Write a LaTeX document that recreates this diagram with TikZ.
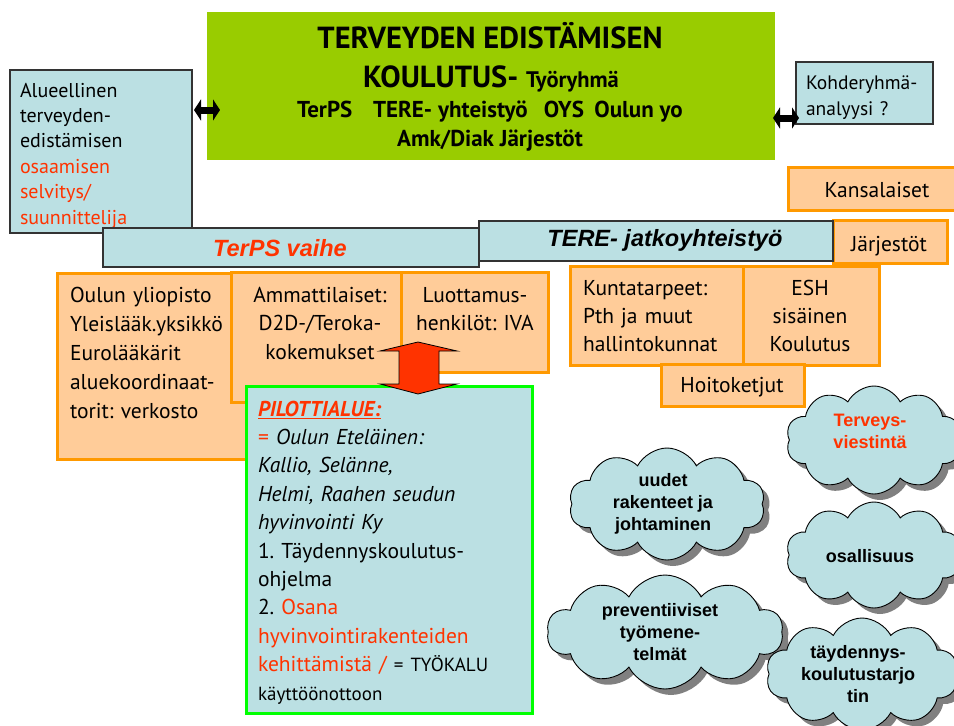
\documentclass[tikz,border=0pt]{standalone}
\usepackage{fontspec}
\setmainfont{PT Sans}
\newfontfamily\arialf{Liberation Sans}
\usetikzlibrary{shapes.symbols,shadows,arrows.meta}
\definecolor{lblue}{HTML}{BBE0E3}
\definecolor{peach}{HTML}{FFCC99}
\definecolor{orangeb}{HTML}{FF9900}
\definecolor{redtxt}{HTML}{FF3300}
\definecolor{titlegreen}{HTML}{99CC00}
\definecolor{pilotgreen}{HTML}{00FF00}
\frenchspacing
\begin{document}
\begin{tikzpicture}[x=1pt,y=-1pt,
  every node/.style={inner sep=0pt,outer sep=0pt},
  bluebox/.style={draw=black!80,line width=1.3pt,fill=lblue,anchor=north west},
  obox/.style={draw=orangeb,line width=3pt,fill=peach,anchor=north west},
  btxt/.style={font=\fontsize{21.5}{29}\selectfont,text width=#1,align=left,anchor=base west},
  ctxt/.style={font=\fontsize{21.5}{28.5}\selectfont,text width=#1,align=center,anchor=base},
  bartxt/.style={font=\arialf\bfseries\itshape\fontsize{23.5}{26}\selectfont},
  cloudsty/.style={cloud,cloud puffs=10,cloud puff arc=125,cloud ignores aspect,draw=black,line width=0.9pt,fill=lblue,
     drop shadow={shadow xshift=6pt,shadow yshift=-6pt,fill=black!50,opacity=1}},
  cloudtxt/.style={font=\arialf\bfseries\fontsize{18}{22}\selectfont,align=center},
  dblarrow/.style={line width=7pt,{Triangle[length=7pt,width=21pt]}-{Triangle[length=7pt,width=21pt]}}
]
\useasboundingbox (0,0) rectangle (954,726);
\clip (0,0) rectangle (954,726);

% title box
\node[fill=titlegreen,anchor=north west,minimum width=568pt,minimum height=148pt] (title) at (207,12) {};
\node[anchor=base,font=\bfseries\fontsize{30.5}{31}\selectfont] (t1) at (490,48) {TERVEYDEN EDISTÄMISEN};
\node[anchor=base,font=\bfseries\fontsize{30.5}{31}\selectfont] (t2) at (491,87) {KOULUTUS- {\fontsize{22.5}{22}\selectfont Työryhmä}};
\node[anchor=base,font=\bfseries\fontsize{23}{23}\selectfont] (t3) at (490,117) {TerPS\hspace{0.9em}TERE- yhteistyö\hspace{0.7em}OYS\hspace{0.45em}Oulun yo};
\node[anchor=base,font=\bfseries\fontsize{23}{23}\selectfont] (t4) at (490,146) {Amk/Diak Järjestöt};

% left box
\node[bluebox,minimum width=182pt,minimum height=163pt] (lb) at (10,70) {};
\node[anchor=base west,font=\fontsize{20}{25.4}\selectfont,text width=170pt,align=left] (lbt) at (20,97)
  {Alueellinen\\terveyden-\\edistämisen\\\textcolor{redtxt}{osaamisen}\\\textcolor{redtxt}{selvitys/}\\\textcolor{redtxt}{suunnittelija}};

% Kohderyhmä
\node[bluebox,minimum width=137pt,minimum height=62pt] (kohde) at (796,62) {};
\node[anchor=base west,font=\fontsize{19.5}{26}\selectfont,text width=125pt,align=left] (kohdet) at (806,89) {Kohderyhmä-\\analyysi ?};

% arrows
\coordinate (a1) at (0,110);
\coordinate (a2) at (0,118);
\draw[dblarrow] ([xshift=2pt]lb.east |- a1) -- ([xshift=13pt]title.west |- a1);
\draw[dblarrow] ([xshift=-2pt]title.east |- a2) -- ([xshift=3pt]kohde.west |- a2);

% right orange boxes
\node[obox,minimum width=180pt,minimum height=43pt] (kans) at (788,167) {};
\node[anchor=base,font=\fontsize{21.5}{24}\selectfont] (kanst) at (877,197) {Kansalaiset};
\node[obox,minimum width=114pt,minimum height=43pt] (jarj) at (833,220) {};
\node[anchor=base,font=\fontsize{21.5}{24}\selectfont] (jarjt) at (889,251) {Järjestöt};

% bars
\node[bluebox,minimum width=376pt,minimum height=39pt] (terps) at (103,228) {};
\node[bartxt,text=redtxt] (terpst) at (280,248) {TerPS vaihe};
\node[bluebox,minimum width=354pt,minimum height=40pt] (tere) at (479,221) {};
\node[bartxt] (teret) at (665,240) {TERE- jatkoyhteistyö};

% left orange row
\node[obox,minimum width=243pt,minimum height=186pt] (oulu) at (57,273) {};
\node[btxt=175pt] (oulut) at (70,302) {Oulun yliopisto\\Yleislääk.yksikkö\\Eurolääkärit\\aluekoordinaat-\\torit: verkosto};
\node[obox,minimum width=179pt,minimum height=130pt] (amm) at (231,272) {};
\node[ctxt=170pt] (ammt) at (320,302) {Ammattilaiset:\\D2D-/Teroka-\\kokemukset};
\node[obox,minimum width=147pt,minimum height=100pt] (luot) at (401,272) {};
\node[ctxt=140pt] (luott) at (475,302) {Luottamus-\\henkilöt: IVA};

% right orange row
\node[obox,minimum width=173pt,minimum height=99pt] (kunta) at (570,266) {};
\node[btxt=165pt,font=\fontsize{21.5}{28}\selectfont] (kuntat) at (583,295) {Kuntatarpeet:\\Pth ja muut\\hallintokunnat};
\node[obox,minimum width=136pt,minimum height=99pt] (esh) at (743,266) {};
\node[ctxt=130pt,font=\fontsize{21.5}{28}\selectfont] (esht) at (810,295) {ESH\\sisäinen\\Koulutus};
\node[obox,minimum width=143pt,minimum height=42pt] (hoito) at (661,364) {};
\node[anchor=base,font=\fontsize{21.5}{24}\selectfont] (hoitot) at (732,392) {Hoitoketjut};

% pilot box
\node[draw=pilotgreen,line width=3pt,fill=lblue,anchor=north west,minimum width=286pt,minimum height=327pt] (pilot) at (246,386) {};
\node[btxt=270pt,font=\fontsize{21.5}{28.4}\selectfont] (pilott) at (258,416)
  {\textcolor{redtxt}{\bfseries\itshape\underline{PILOTTIALUE:}}\\
   \textcolor{redtxt}{=} \textit{Oulun Eteläinen:}\\
   \textit{Kallio, Selänne,}\\
   \textit{Helmi, Raahen seudun}\\
   \textit{hyvinvointi Ky}\\
   1. Täydennyskoulutus-\\
   ohjelma\\
   2. \textcolor{redtxt}{Osana}\\
   \textcolor{redtxt}{hyvinvointirakenteiden}\\
   \textcolor{redtxt}{kehittämistä /} {\fontsize{19}{20}\selectfont = TYÖKALU}\\
   {\fontsize{19}{20}\selectfont käyttöönottoon}};

% red double arrow
\draw[fill=redtxt,draw=black,line width=0.8pt,line join=miter]
  (418,342) -- (457,351) -- (439,351) -- (439,384) -- (457,384) -- (418,394)
  -- (380,384) -- (399,384) -- (399,351) -- (380,351) -- cycle;

% clouds
\node[cloudsty,minimum width=176pt,minimum height=108pt] (c1) at (874,440) {};
\node[cloudtxt,text=redtxt] (c1t) at (870,431) {Terveys-\\viestintä};
\node[cloudsty,minimum width=196pt,minimum height=112pt] (c2) at (667,504) {};
\node[cloudtxt] (c2t) at (663,504) {uudet\\rakenteet ja\\johtaminen};
\node[cloudsty,minimum width=176pt,minimum height=106pt] (c3) at (874,555) {};
\node[cloudtxt] (c3t) at (870,556) {osallisuus};
\node[cloudsty,minimum width=236pt,minimum height=114pt] (c4) at (665,632) {};
\node[cloudtxt] (c4t) at (660,632) {preventiiviset\\työmene-\\telmät};
\node[cloudsty,minimum width=192pt,minimum height=112pt] (c5) at (862,674) {};
\node[cloudtxt] (c5t) at (858,674) {täydennys-\\koulutustarjo\\tin};
\end{tikzpicture}
\end{document}
